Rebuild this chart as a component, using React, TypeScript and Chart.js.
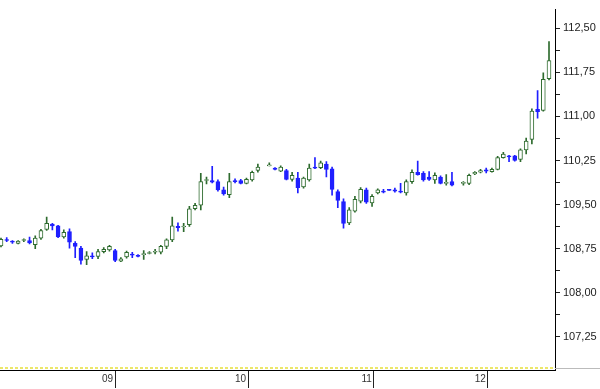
import React, { useEffect, useRef } from 'react';
import { Chart, registerables } from 'chart.js';

Chart.register(...registerables);

// Candle data (index = bar position, null = no bar)
const opens: (number | null)[] = [
  108.80, 108.90, 108.88, 108.84, 108.89, 108.89, 108.82, 108.93, 109.08, 109.17,
  109.14, 108.95, 109.04, 108.84, 108.76, 108.57, 108.63, 108.62, 108.70, 108.73,
  108.72, 108.54, 108.61, 108.66, 108.64, 108.65, 108.67, 108.69, 108.69, 108.79,
  108.90, 109.13, 109.12, 109.16, 109.43, 109.49, 109.91, 109.91, 109.89, 109.75,
  109.67, 109.91, 109.91, 109.86, 109.92, 110.08, null, 110.16, 110.12, 110.07,
  110.08, 109.93, 109.95, 109.80, 109.92, 110.13, 110.13, 110.19, 110.11, 109.72,
  109.55, 109.19, 109.39, 109.56, 109.75, 109.53, 109.70, 109.73, 109.76, 109.75,
  109.73, 109.70, 109.89, 110.05, 110.03, 109.97, 109.92, 109.97, 109.86, 109.89,
  null, 109.86, 109.86, 110.02, 110.05, 110.09, 110.06, 110.10, 110.30, 110.33,
  110.33, 110.27, 110.43, 110.61, 111.12, 111.10, 111.64,
];
const highs: (number | null)[] = [
  108.93, 108.94, 108.89, 108.89, 108.92, 108.95, 108.97, 109.08, 109.29, 109.18,
  109.15, 109.07, 109.09, 108.87, 108.79, 108.70, 108.68, 108.74, 108.77, 108.81,
  108.74, 108.60, 108.71, 108.69, 108.65, 108.72, 108.70, 108.74, 108.81, 108.92,
  109.29, 109.19, 109.18, 109.47, 109.52, 110.03, 109.97, 110.15, 109.92, 109.80,
  110.03, 109.94, 109.93, 109.95, 110.07, 110.19, null, 110.21, 110.13, 110.16,
  110.10, 110.05, 110.05, 109.97, 110.19, 110.30, 110.24, 110.23, 110.14, 109.75,
  109.60, 109.45, 109.64, 109.79, 109.78, 109.67, 109.77, 109.76, 109.76, 109.78,
  109.86, 109.92, 110.09, 110.24, 110.06, 110.06, 110.04, 109.99, 110.01, 110.05,
  null, 109.89, 110.02, 110.06, 110.10, 110.12, 110.12, 110.32, 110.39, 110.34,
  110.34, 110.45, 110.63, 111.13, 111.44, 111.74, 112.27,
];
const lows: (number | null)[] = [
  108.78, 108.87, 108.84, 108.83, 108.87, 108.83, 108.75, 108.91, 109.06, 109.07,
  108.94, 108.93, 108.76, 108.60, 108.49, 108.48, 108.58, 108.58, 108.68, 108.71,
  108.53, 108.53, 108.59, 108.60, 108.61, 108.57, 108.66, 108.66, 108.66, 108.75,
  108.87, 109.05, 109.04, 109.13, 109.41, 109.41, 109.85, 109.87, 109.73, 109.66,
  109.62, 109.87, 109.85, 109.85, 109.90, 110.05, null, 110.16, 110.09, 110.06,
  109.92, 109.90, 109.70, 109.78, 109.90, 110.11, 110.11, 109.97, 109.66, 109.45,
  109.10, 109.16, 109.37, 109.53, 109.52, 109.47, 109.68, 109.70, 109.74, 109.71,
  109.70, 109.66, 109.86, 110.00, 109.90, 109.91, 109.86, 109.85, 109.83, 109.82,
  null, 109.83, 109.84, 110.01, 110.04, 110.04, 110.05, 110.09, 110.29, 110.23,
  110.24, 110.23, 110.36, 110.53, 110.97, 111.09, 111.62,
];
const closes: (number | null)[] = [
  108.91, 108.89, 108.86, 108.88, 108.90, 108.85, 108.93, 109.06, 109.18, 109.14,
  108.95, 109.03, 108.86, 108.79, 108.55, 108.63, 108.61, 108.70, 108.74, 108.79,
  108.55, 108.58, 108.69, 108.64, 108.62, 108.66, 108.68, 108.70, 108.79, 108.90,
  109.14, 109.11, 109.13, 109.43, 109.49, 109.89, 109.92, 109.88, 109.75, 109.68,
  109.89, 109.89, 109.86, 109.93, 110.05, 110.14, null, 110.16, 110.10, 110.14,
  109.93, 110.00, 109.79, 109.95, 110.12, 110.12, 110.21, 110.10, 109.76, 109.57,
  109.18, 109.41, 109.59, 109.76, 109.54, 109.64, 109.75, 109.71, 109.74, 109.73,
  109.71, 109.89, 110.05, 110.01, 109.92, 109.93, 110.00, 109.86, 109.87, 109.83,
  null, 109.87, 110.00, 110.05, 110.08, 110.07, 110.10, 110.30, 110.36, 110.31,
  110.25, 110.43, 110.58, 111.09, 111.08, 111.63, 111.95,
];

// X axis: day separators (bar positions) and their labels
const dayTickPositions = [20, 43.3, 65.3, 85.3];
const dayLabels = ['09', '10', '11', '12'];

// Y axis: labelled ticks
const yMajorTicks = [107.25, 108.0, 108.75, 109.5, 110.25, 111.0, 111.75, 112.5];
const yTickLabels = ['107,25', '108,00', '108,75', '109,50', '110,25', '111,00', '111,75', '112,50'];

const UP = '#2e6b2e';
const DOWN = '#1f1fff';

export default function App() {
  const ref = useRef<HTMLCanvasElement>(null);

  useEffect(() => {
    if (!ref.current) return;
    const bodies: any[] = [];
    const wicks: any[] = [];
    opens.forEach((o, i) => {
      if (o == null) return;
      bodies.push({ x: i, y: [o, closes[i]] });
      wicks.push({ x: i, y: [lows[i], highs[i]] });
    });
    const isUp = (ctx: any) => {
      const i = ctx.raw ? ctx.raw.x : 0;
      return (closes[i] as number) >= (opens[i] as number);
    };

    // minor ticks halfway between labelled ones
    const yAll: number[] = [];
    yMajorTicks.forEach((v, k) => {
      yAll.push(v);
      if (k < yMajorTicks.length - 1) yAll.push((v + yMajorTicks[k + 1]) / 2);
    });

    const decor = {
      id: 'decor',
      afterDraw(chart: any) {
        const { ctx, chartArea } = chart;
        ctx.save();
        ctx.strokeStyle = '#e6df3a';
        ctx.lineWidth = 1.5;
        ctx.setLineDash([3, 2]);
        ctx.beginPath();
        ctx.moveTo(chartArea.left, chartArea.bottom - 2);
        ctx.lineTo(chartArea.right, chartArea.bottom - 2);
        ctx.stroke();
        ctx.setLineDash([]);
        ctx.strokeStyle = '#bbbbbb';
        ctx.lineWidth = 1;
        ctx.beginPath();
        ctx.moveTo(chartArea.right, chartArea.bottom - 1.5);
        ctx.lineTo(chart.width, chartArea.bottom - 1.5);
        ctx.stroke();
        ctx.restore();
      },
    };

    const chart = new Chart(ref.current, {
      type: 'bar',
      data: {
        datasets: [
          {
            label: 'wick',
            data: wicks,
            order: 2,
            barThickness: 1,
            grouped: false,
            backgroundColor: (ctx: any) => (isUp(ctx) ? UP : DOWN),
            borderWidth: 0,
          } as any,
          {
            label: 'body',
            data: bodies,
            order: 1,
            barThickness: 4,
            grouped: false,
            minBarLength: 1,
            borderSkipped: false,
            backgroundColor: (ctx: any) => (isUp(ctx) ? '#ffffff' : DOWN),
            borderColor: (ctx: any) => (isUp(ctx) ? UP : DOWN),
            borderWidth: 1,
          } as any,
        ],
      },
      options: {
        animation: false,
        responsive: true,
        maintainAspectRatio: false,
        layout: { padding: 0 },
        plugins: { legend: { display: false }, tooltip: { enabled: false } },
        scales: {
          x: {
            type: 'linear',
            min: -0.175,
            max: 97.05,
            offset: false,
            afterBuildTicks: (scale: any) => {
              scale.ticks = dayTickPositions.map((v) => ({ value: v }));
            },
            afterFit: (scale: any) => {
              scale.height = 19;
            },
            grid: {
              display: true,
              drawOnChartArea: false,
              drawTicks: true,
              tickLength: 18,
              tickColor: '#222',
              offset: false,
            },
            border: { display: true, color: '#000', width: 1 },
            ticks: {
              autoSkip: false,
              maxRotation: 0,
              align: 'end',
              labelOffset: -2,
              padding: -15,
              color: '#333',
              font: { family: 'Liberation Sans, Arial, sans-serif', size: 10 },
              callback: (_v: any, idx: number) => dayLabels[idx] ?? '',
            },
          },
          y: {
            type: 'linear',
            position: 'right',
            min: 106.689,
            max: 112.815,
            afterBuildTicks: (scale: any) => {
              scale.ticks = yAll.map((v) => ({ value: v }));
            },
            afterFit: (scale: any) => {
              scale.width = 45;
            },
            grid: {
              display: true,
              drawOnChartArea: false,
              drawTicks: true,
              tickLength: 5,
              tickColor: '#222',
            },
            border: { display: true, color: '#000', width: 1 },
            ticks: {
              autoSkip: false,
              padding: 3,
              color: '#222',
              font: { family: 'Liberation Sans, Arial, sans-serif', size: 11 },
              callback: (v: any) => {
                const k = yMajorTicks.findIndex((m) => Math.abs(m - Number(v)) < 1e-6);
                return k >= 0 ? yTickLabels[k] : '';
              },
            },
          },
        },
      },
      plugins: [decor],
    } as any);
    return () => chart.destroy();
  }, []);

  return (
    <div style={{ position: 'fixed', left: 0, top: 0, width: 600, height: 389, background: '#fff' }}>
      <canvas ref={ref} />
    </div>
  );
}
